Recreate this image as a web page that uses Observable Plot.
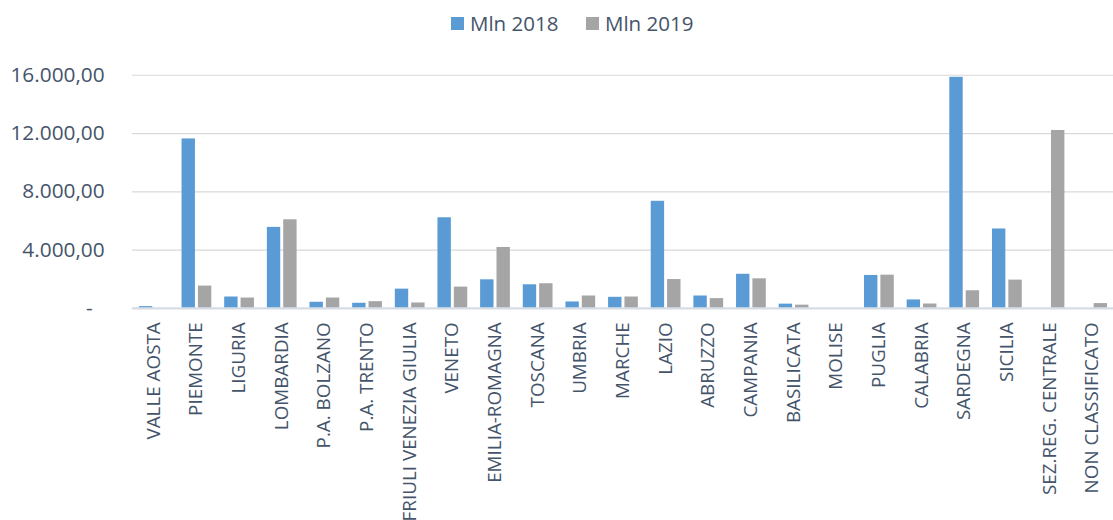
<!DOCTYPE html>
<html>
<head>
<meta charset="utf-8">
<script src="https://cdn.jsdelivr.net/npm/d3@7"></script>
<script src="https://cdn.jsdelivr.net/npm/@observablehq/plot@0.6"></script>
<style>
  html, body { margin: 0; padding: 0; background: #fff; overflow: hidden; width: 1113px; height: 520px; }
  #legend { position: relative; height: 46px; font-family: "Open Sans", sans-serif; font-size: 20.5px; color: #44546a; }
  .item { position: absolute; top: 5px; display: flex; align-items: center; height: 36px; }
  .sw { width: 13px; height: 13px; margin-right: 6px; }
  #chart svg { display: block; }
</style>
</head>
<body>
<div id="legend"></div>
<div id="chart"></div>
<script>
const regions = ["VALLE AOSTA","PIEMONTE","LIGURIA","LOMBARDIA","P.A. BOLZANO","P.A. TRENTO","FRIULI VENEZIA GIULIA","VENETO","EMILIA-ROMAGNA","TOSCANA","UMBRIA","MARCHE","LAZIO","ABRUZZO","CAMPANIA","BASILICATA","MOLISE","PUGLIA","CALABRIA","SARDEGNA","SICILIA","SEZ.REG. CENTRALE","NON CLASSIFICATO"];
const mln2018 = [120, 11630, 780, 5560, 420, 350, 1320, 6220, 1960, 1620, 440, 760, 7350, 850, 2340, 290, 0, 2260, 580, 15860, 5450, 0, 0];
const mln2019 = [0, 1530, 710, 6080, 710, 460, 370, 1460, 4180, 1690, 850, 780, 1980, 670, 2030, 220, 0, 2280, 300, 1210, 1940, 12210, 330];
const seriesNames = ["Mln 2018", "Mln 2019"];
const seriesColors = ["#5b9bd5", "#a5a5a5"];
const yTicks = [0, 4000, 8000, 12000, 16000];

const d2018 = regions.map((r, i) => ({region: r, value: mln2018[i]}));
const d2019 = regions.map((r, i) => ({region: r, value: mln2019[i]}));

const it = d3.formatLocale({decimal: ",", thousands: ".", grouping: [3], currency: ["", ""]});
const fmt = it.format(",.2f");

// legend
const legend = document.getElementById("legend");
const legendLeft = [451, 586];
seriesNames.forEach((name, i) => {
  const item = document.createElement("div");
  item.className = "item";
  item.style.left = legendLeft[i] + "px";
  const sw = document.createElement("div");
  sw.className = "sw";
  sw.style.background = seriesColors[i];
  const t = document.createElement("span");
  t.textContent = name;
  item.appendChild(sw);
  item.appendChild(t);
  legend.appendChild(item);
});

const chart = Plot.plot({
  width: 1122,
  height: 474,
  marginLeft: 133,
  marginRight: 0,
  marginTop: 29,
  marginBottom: 210,
  style: {fontFamily: "Open Sans, sans-serif", color: "#44546a", background: "#fff", overflow: "visible"},
  x: {domain: regions, padding: 0, tickRotate: -90, tickSize: 0, tickPadding: 14, label: null},
  y: {domain: [0, 16000], ticks: yTicks, tickSize: 0, tickPadding: 28, label: null,
      tickFormat: d => d === 0 ? "-\u2007" : fmt(d)},
  marks: [
    Plot.ruleY(yTicks.filter(d => d > 0), {stroke: "#d9d9d9", strokeWidth: 1.2}),
    Plot.barY(d2018, {x: "region", y: "value", fill: seriesColors[0], insetLeft: 7, insetRight: 22.5}),
    Plot.barY(d2019, {x: "region", y: "value", fill: seriesColors[1], insetLeft: 23.5, insetRight: 6}),
    Plot.ruleY([0], {stroke: "#d6dce5", strokeWidth: 2.5})
  ]
});
document.getElementById("chart").appendChild(chart);

chart.querySelectorAll('[aria-label^="x-axis"]').forEach(g => g.setAttribute("font-size", "19"));
chart.querySelectorAll('[aria-label^="x-axis"] text').forEach(t => t.setAttribute("font-size", "19"));
chart.querySelectorAll('[aria-label^="y-axis"]').forEach(g => g.setAttribute("font-size", "21"));
chart.querySelectorAll('[aria-label^="y-axis"] text').forEach(t => t.setAttribute("font-size", "21"));
</script>
</body>
</html>
